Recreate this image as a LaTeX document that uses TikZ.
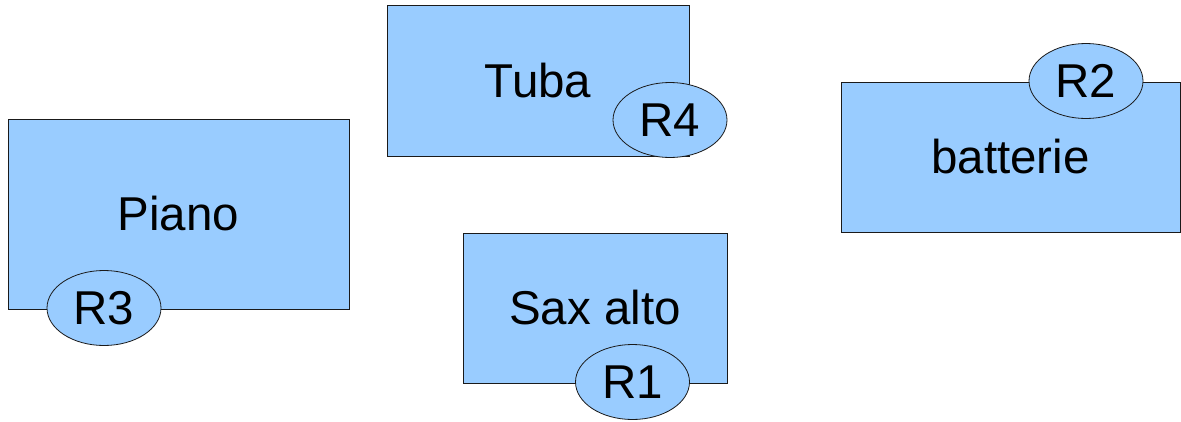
\documentclass[tikz,border=0pt]{standalone}
\usepackage{fontspec}
\setmainfont{Liberation Sans}
\usetikzlibrary{shapes.geometric}
\definecolor{boxfill}{HTML}{99CCFF}
\definecolor{edge}{HTML}{1A1A1A}
\begin{document}
\begin{tikzpicture}[x=1pt,y=-1pt,
  inst/.style={draw=edge,fill=boxfill,line width=1pt,rectangle,inner sep=0pt,
    font=\fontsize{47.5}{57}\selectfont},
  res/.style={draw=edge,fill=boxfill,line width=0.8pt,ellipse,inner sep=0pt,
    minimum width=114pt,minimum height=75pt,font=\fontsize{47.5}{57}\selectfont}]
\useasboundingbox (0,0) rectangle (1181,421);
% Tuba
\node[inst,minimum width=302pt,minimum height=151pt] (tuba) at (538,81) {Tuba};
\node[res] (r4) at (670,120) {R4};
% batterie
\node[inst,minimum width=339pt,minimum height=150pt] (batt) at (1010.5,157) {batterie};
\node[res] (r2) at (1086,81) {R2};
% Piano
\node[inst,minimum width=341pt,minimum height=190pt] (piano) at (178.5,214) {Piano};
\node[res] (r3) at (104,308) {R3};
% Sax alto
\node[inst,minimum width=264pt,minimum height=150pt] (sax) at (595,308) {Sax alto};
\node[res] (r1) at (632.5,382) {R1};
\end{tikzpicture}
\end{document}
